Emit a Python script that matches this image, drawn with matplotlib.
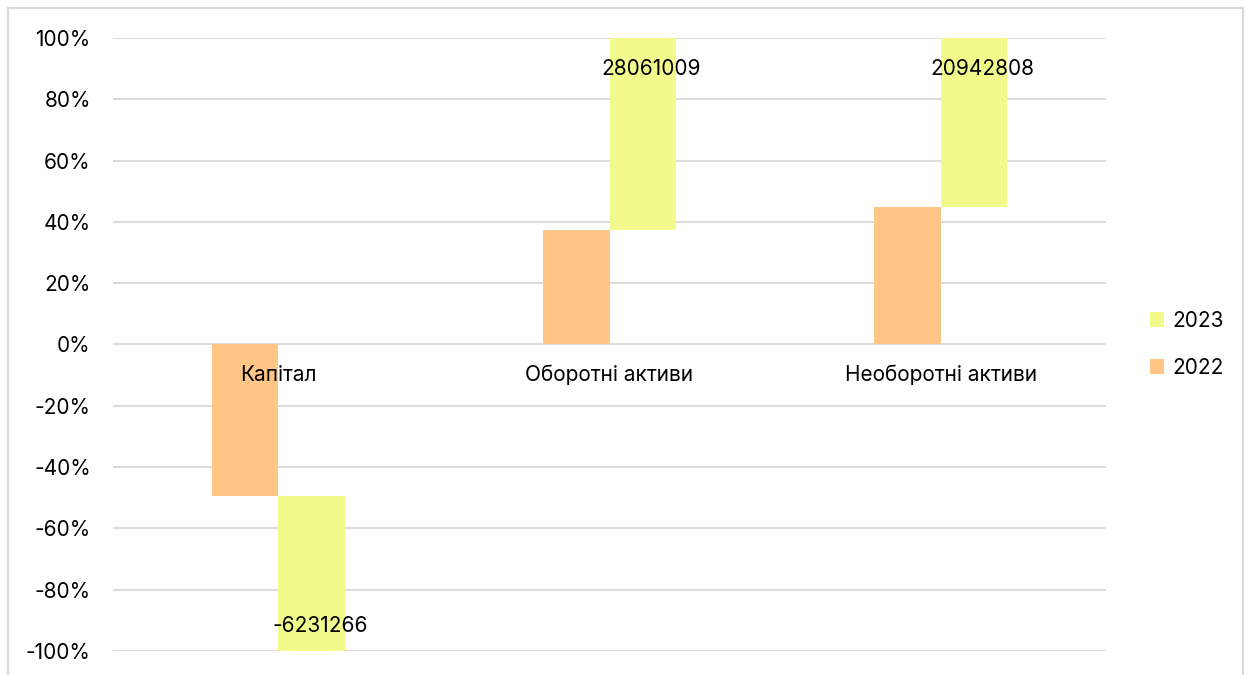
import matplotlib
matplotlib.use("Agg")
import matplotlib.pyplot as plt
from matplotlib.patches import Rectangle
from matplotlib.ticker import FuncFormatter

plt.rcParams['font.family'] = ['Inter', 'DejaVu Sans']

# дані
categories = ['Капітал', 'Оборотні активи', 'Необоротні активи']
share_2022 = [-0.493, 0.374, 0.450]
share_2023 = [-0.507, 0.626, 0.550]
labels_2023 = ['-6231266', '28061009', '20942808']

c2022 = '#FFC685'
c2023 = '#F2FA8C'
fs = 15

fig = plt.figure(figsize=(12.47, 6.75), dpi=100)
ax = fig.add_axes([0.0906, 0.0356, 0.7964, 0.9081])

# рамка навколо діаграми
fig.patches.append(Rectangle((0.0064, -0.01), 0.99, 0.998, transform=fig.transFigure,
                             fill=False, edgecolor='#D9D9D9', linewidth=1.5))

x = list(range(len(categories)))
w = 0.2
x22 = [i - w / 2 for i in x]
x23 = [i + w / 2 for i in x]
ax.bar(x22, share_2022, width=w, color=c2022, label='2022', zorder=3)
ax.bar(x23, share_2023, width=w, bottom=share_2022, color=c2023, label='2023', zorder=3)

# підписи даних
for i in x:
    top = share_2022[i] + share_2023[i]
    y = top - 0.1 if top > 0 else top + 0.08
    ax.text(x23[i] + 0.025, y, labels_2023[i], ha='center', va='center', fontsize=fs, zorder=4)

# підписи категорій біля нульової лінії
for i in x:
    ax.text(i, -0.1, categories[i], ha='center', va='center', fontsize=fs, zorder=4)

ax.set_xlim(-0.5, 2.5)
ax.set_ylim(-1, 1)
ax.set_yticks([i / 10 for i in range(-10, 11, 2)])
ax.yaxis.set_major_formatter(FuncFormatter(lambda v, p: f'{round(v * 100)}%'))
ax.set_xticks([])
ax.tick_params(axis='y', length=0, labelsize=fs, pad=16)
ax.grid(axis='y', color='#D9D9D9', linewidth=1.3, zorder=0)
for s in ax.spines.values():
    s.set_visible(False)

h, l = ax.get_legend_handles_labels()
ax.legend(h[::-1], l[::-1], loc='center left', bbox_to_anchor=(1.025, 0.5),
          frameon=False, fontsize=fs, handlelength=0.7, handleheight=0.7,
          labelspacing=1.3, handletextpad=0.4)

fig.savefig('out.png', dpi=100)
